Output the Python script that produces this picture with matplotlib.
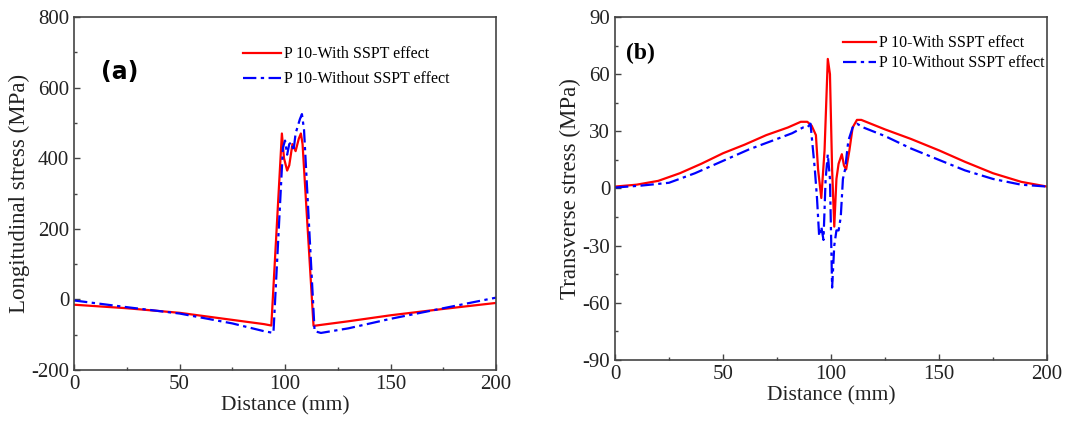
import matplotlib
matplotlib.use('Agg')
import matplotlib.pyplot as plt
from matplotlib.ticker import MultipleLocator

# panel (a) longitudinal stress
xa_with = [0, 25, 50, 75, 90, 93.5, 98.5, 99.5, 101, 102, 103.5, 105, 106.5, 107.5, 108.3,
           113.5, 116, 130, 150, 175, 200]
ya_with = [-15, -25, -38, -58, -70, -74, 470, 400, 365, 380, 440, 420, 455, 470, 440,
           -75, -73, -62, -45, -27, -10]
xa_without = [0, 25, 50, 75, 90, 94.5, 99, 100, 101, 102, 103, 104, 105, 106, 107, 108, 109,
              114, 117, 130, 150, 175, 200]
ya_without = [-3, -22, -40, -68, -90, -95, 430, 450, 410, 440, 445, 420, 470, 490, 510, 525, 480,
              -90, -95, -82, -55, -25, 5]

# panel (b) transverse stress
xb_with = [0, 10, 20, 30, 40, 50, 60, 70, 80, 86, 89, 91, 93, 94, 95.5, 97, 98.5, 99.5, 100.5,
           101.5, 102.5, 103.5, 105, 106, 107, 108.5, 110, 112, 114, 125, 137, 150, 162, 175,
           188, 200]
yb_with = [1, 2, 4, 8, 13, 18.5, 23, 28, 32, 35, 35, 33, 28, 10, -5, 20, 68, 60, 10,
           -20, 5, 13, 18, 12, 10, 20, 32, 36, 36, 31, 26, 20, 14, 8, 3.5, 1]
xb_without = [0, 12, 25, 37, 50, 62, 75, 82, 87, 89, 90.5, 92.5, 93.5, 94.5, 95.5, 96.5, 97.5,
              98.5, 99.5, 100.5, 101.5, 102.5, 103.5, 104.5, 105.5, 106.5, 108, 110, 112, 115,
              125, 137, 150, 162, 175, 188, 200]
yb_without = [0.5, 1.5, 3, 8, 14.5, 20.5, 26, 29, 32, 32, 34, 10, -5, -25, -20, -27, 5,
              18, 5, -52, -30, -22, -22, -15, 5, 10, 25, 32, 34, 32,
              27.5, 21, 15, 9.5, 5, 2, 1]

lab_with = "P 10-With SSPT effect"
lab_without = "P 10-Without SSPT effect"

plt.rcParams['font.family'] = ['Liberation Serif', 'DejaVu Serif']
plt.rcParams['xtick.direction'] = 'in'
plt.rcParams['ytick.direction'] = 'in'
plt.rcParams['axes.unicode_minus'] = False

fig = plt.figure(figsize=(10.67, 4.25), dpi=100)
ax1 = fig.add_axes([0.0694, 0.1294, 0.3955, 0.8306])
ax2 = fig.add_axes([0.5764, 0.153, 0.4049, 0.807])

spine_col = '#444444'
txt_col = '#222222'


def style(ax):
    for s in ax.spines.values():
        s.set_color(spine_col)
        s.set_linewidth(1.2)
    ax.tick_params(axis='both', which='major', labelsize=15, color=spine_col,
                   length=4, width=1, labelcolor=txt_col)
    ax.tick_params(axis='both', which='minor', color=spine_col, length=2.5, width=1)
    ax.xaxis.set_major_locator(MultipleLocator(50))
    ax.xaxis.set_minor_locator(MultipleLocator(25))
    ax.set_xlim(0, 200)
    ax.set_xlabel("Distance (mm)", fontsize=15.5, color=txt_col, labelpad=2)


dash = (0, (6, 2, 1.5, 2))

ax1.plot(xa_with, ya_with, color='red', lw=1.6, label=lab_with)
ax1.plot(xa_without, ya_without, color='blue', lw=1.6, ls=dash, label=lab_without)
ax1.set_ylim(-200, 800)
ax1.yaxis.set_major_locator(MultipleLocator(200))
ax1.yaxis.set_minor_locator(MultipleLocator(100))
style(ax1)
ax1.set_ylabel("Longitudinal stress (MPa)", fontsize=16.5, color=txt_col, labelpad=1)
ax1.text(0.065, 0.845, "(a)", transform=ax1.transAxes, fontsize=17, fontweight='bold',
         family='DejaVu Sans', va='center')
ax1.legend(loc='upper left', bbox_to_anchor=(0.385, 0.935), frameon=False, fontsize=11.5,
           handlelength=2.4, handletextpad=0.15, labelspacing=0.55, borderaxespad=0)

ax2.plot(xb_with, yb_with, color='red', lw=1.6, label=lab_with)
ax2.plot(xb_without, yb_without, color='blue', lw=1.6, ls=dash, label=lab_without)
ax2.set_ylim(-90, 90)
ax2.yaxis.set_major_locator(MultipleLocator(30))
ax2.yaxis.set_minor_locator(MultipleLocator(15))
style(ax2)
ax2.set_ylabel("Transverse stress (MPa)", fontsize=16.5, color=txt_col, labelpad=1)
ax2.text(0.025, 0.895, "(b)", transform=ax2.transAxes, fontsize=17, fontweight='bold',
         va='center')
ax2.legend(loc='upper left', bbox_to_anchor=(0.512, 0.965), frameon=False, fontsize=11.5,
           handlelength=2.1, handletextpad=0.15, labelspacing=0.25, borderaxespad=0)

plt.savefig('out.png', dpi=100)
